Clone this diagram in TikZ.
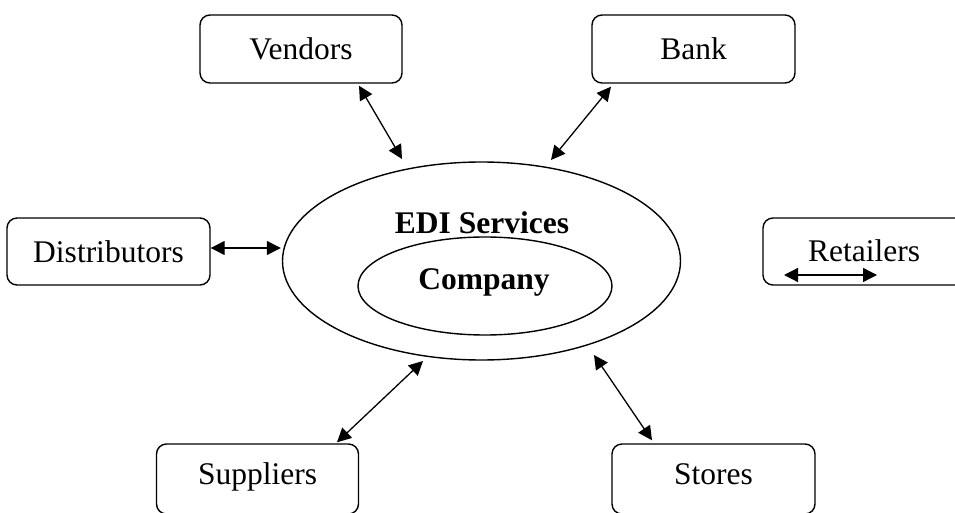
\documentclass[tikz,border=0pt]{standalone}
\usepackage{fontspec}
\setmainfont{Liberation Serif}
\usetikzlibrary{arrows.meta,calc,shapes.geometric}
\begin{document}
\begin{tikzpicture}[x=1pt,y=1pt,
  box/.style={draw,line width=1.4pt,rounded corners=10pt,minimum width=202pt,minimum height=68pt,inner sep=0pt,font=\fontsize{31.5}{36}\selectfont},
  oval/.style={draw,line width=1.4pt,ellipse,inner sep=0pt},
  lab/.style={font=\fontsize{31.5}{36}\selectfont},
  link/.style={line width=1.3pt,{Triangle[length=14pt,width=14pt]}-{Triangle[length=14pt,width=14pt]}}]
\useasboundingbox (0,0) rectangle (955,512);
\clip (0,0) rectangle (955,512);
\node[box] (vendors) at (301,463) {Vendors};
\node[box,minimum width=203pt] (bank) at (693.5,463) {Bank};
\node[box,minimum width=203pt,minimum height=67pt] (distributors) at (108.5,260.5) {Distributors};
\node[box,minimum height=67pt] (retailers) at (864,260.5) {};
\node[lab] (retlab) at (864,261) {Retailers};
\node[box,minimum height=70pt] (suppliers) at (257.5,33) {};
\node[lab] (suplab) at (257.5,35) {Suppliers};
\node[box,minimum width=203pt,minimum height=70pt] (stores) at (713.5,33) {};
\node[lab] (storlab) at (713.5,38) {Stores};
\node[oval,minimum width=398pt,minimum height=198pt] (edi) at (481.5,251) {};
\node[lab,font=\fontsize{31.5}{36}\selectfont\bfseries] (edilab) at (482,289) {EDI Services};
\node[oval,minimum width=254pt,minimum height=98pt] (company) at (485,226) {};
\node[lab,font=\fontsize{31.5}{36}\selectfont\bfseries] (complab) at (484,230) {Company};
\draw[link] ($(vendors.south)+(58,-2)$) -- ($(edi.center)+(-79.5,102)$);
\draw[link] ($(bank.south)+(-82.5,-3)$) -- ($(edi.center)+(69.5,101)$);
\draw[link] ($(distributors.east)+(0,3.5)$) -- ($(edi.west)+(-1,13)$);
\draw[link] ($(suppliers.north)+(79.5,1)$) -- ($(edi.center)+(-58.5,-100)$);
\draw[link] ($(stores.north)+(-61.5,3)$) -- ($(edi.center)+(112.5,-94)$);
\draw[link] ($(retailers.center)+(-80,-23.5)$) -- ($(retailers.center)+(13,-23.5)$);
\end{tikzpicture}
\end{document}
